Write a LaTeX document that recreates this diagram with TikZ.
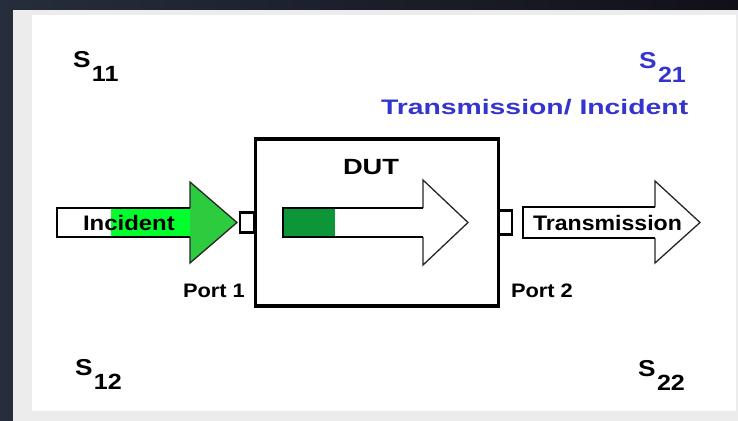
\documentclass[tikz,border=0pt]{standalone}
\usepackage{fontspec}
\setmainfont{Liberation Sans}
\usetikzlibrary{calc}

\definecolor{bgleft}{RGB}{38,45,59}
\definecolor{bgright}{RGB}{17,16,25}
\definecolor{panelgrey}{RGB}{236,236,236}
\definecolor{headgreen}{RGB}{44,204,62}
\definecolor{brightgreen}{RGB}{0,255,44}
\definecolor{dutgreen}{RGB}{12,150,56}
\definecolor{sblue}{RGB}{52,52,206}

% bold sans text with its own size and horizontal stretch
\newcommand{\wtxt}[3]{\scalebox{#1}[1]{\fontsize{#2}{#2}\selectfont\bfseries #3}}
% S-parameter label: S with a large subscript
\newcommand{\sparam}[1]{\wtxt{1.14}{23}{S}\hspace{1.5pt}\raisebox{-14pt}{\wtxt{1.14}{22}{#1}}}

\tikzset{
  label/.style={anchor=base west, inner sep=0pt, outer sep=0pt},
  shaftedge/.style={draw=black, line width=2.6pt, line join=miter},
  headedge/.style={draw=black!85, line width=1.3pt, line join=miter},
  portbox/.style={draw=black, fill=white, line width=2.6pt, inner sep=0pt},
  dutbox/.style={draw=black, line width=3.6pt, inner sep=0pt}
}

\begin{document}
\begin{tikzpicture}[x=1pt, y=-1pt]
  \useasboundingbox (0,0) rectangle (738,420);
  % dark backdrop, grey frame and white sheet
  \shade[left color=bgleft, right color=bgright] (-2,-2) rectangle (740,422);
  \fill[panelgrey] (13,10) rectangle (740,422);
  \fill[white] (32,15) rectangle (736,411);

  % ports on both sides of the device
  \node[portbox, minimum width=14pt, minimum height=20pt] (port1) at (247,222.5) {};
  \node[portbox, minimum width=13pt, minimum height=24pt] (port2) at (505.5,222.5) {};

  % device under test
  \node[dutbox, minimum width=243pt, minimum height=167pt] (dut) at (377,222.5) {};

  % incident wave arrow
  \fill[white] (57,208) rectangle (111,237);
  \fill[brightgreen] (111,208) rectangle (191,237);
  \fill[headgreen] (190,182) -- (237,222.5) -- (190,263) -- cycle;
  \draw[headedge] (190,208) -- (190,182) -- (237,222.5) -- (190,263) -- (190,237);
  \draw[shaftedge] (190,208) -- (57,208) -- (57,237) -- (190,237);

  % wave travelling through the device
  \fill[white] (283,208) -- (423,208) -- (423,180) -- (468,222.5) -- (423,265) -- (423,237) -- (283,237) -- cycle;
  \fill[dutgreen] (283,208) rectangle (335,237);
  \draw[headedge] (423,208) -- (423,180) -- (468,222.5) -- (423,265) -- (423,237);
  \draw[shaftedge] (423,208) -- (283,208) -- (283,237) -- (423,237);

  % transmitted wave arrow
  \fill[white] (523,207) -- (655,207) -- (655,181) -- (700,222.5) -- (655,263) -- (655,238) -- (523,238) -- cycle;
  \draw[headedge] (655,207) -- (655,181) -- (700,222.5) -- (655,263) -- (655,238);
  \draw[shaftedge] (655,207) -- (523,207) -- (523,238) -- (655,238);

  % texts
  \node[label] (incident) at (83,230) {\wtxt{1.14}{21}{Incident}};
  \node[label] (transmission) at (533,230) {\wtxt{1.10}{21}{Transmission}};
  \node[label] (duttext) at (343,174) {\wtxt{1.24}{22}{DUT}};
  \node[label] (p1text) at (183,297) {\wtxt{1.12}{19.5}{Port 1}};
  \node[label] (p2text) at (511,297) {\wtxt{1.12}{19.5}{Port 2}};

  \node[label] (s11) at (73,67) {\sparam{11}};
  \node[label, text=sblue] (s21) at (639,68) {\sparam{21}};
  \node[label, text=sblue] (ratio) at (381,114) {\wtxt{1.35}{21}{Transmission/ Incident}};
  \node[label] (s12) at (75,375) {\sparam{12}};
  \node[label] (s22) at (638,376) {\sparam{22}};
\end{tikzpicture}
\end{document}
